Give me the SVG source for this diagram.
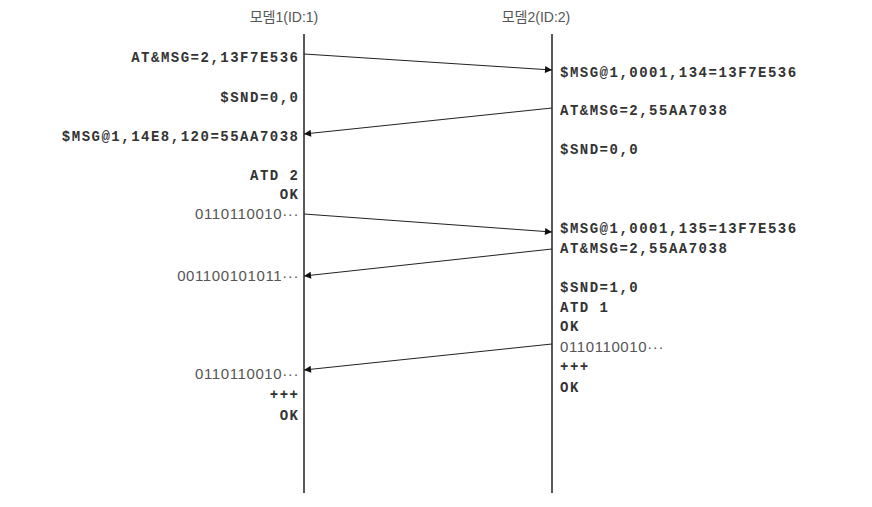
<svg xmlns="http://www.w3.org/2000/svg" width="872" height="507" viewBox="0 0 872 507">
<style>
.title{font-family:"Liberation Sans","Noto Sans CJK KR",sans-serif;font-size:14px;fill:#555}
.cmd{font-family:"Liberation Mono",monospace;font-weight:bold;font-size:14px;letter-spacing:1.5px;fill:#333}
.bin{font-family:"Liberation Sans",sans-serif;font-size:15px;letter-spacing:0.6px;fill:#555}
.l{text-anchor:end}
.life{stroke:#222;stroke-width:1.5;fill:none}
.msg{stroke:#222;stroke-width:1;fill:none;marker-end:url(#ah)}
</style>
<defs>
<marker id="ah" viewBox="0 0 10 10" refX="10" refY="5" markerWidth="8" markerHeight="7" markerUnits="userSpaceOnUse" orient="auto">
<path d="M0,0 L10,5 L0,10 z" fill="#111"/>
</marker>
</defs>
<rect width="872" height="507" fill="#fff"/>
<g id="modem1">
<text class="title" x="284" y="22" text-anchor="middle">모뎀1(ID:1)</text>
<line class="life" x1="304" y1="34" x2="304" y2="493"/>
<text class="cmd l" x="299.5" y="62">AT&amp;MSG=2,13F7E536</text>
<text class="cmd l" x="299.5" y="102">$SND=0,0</text>
<text class="cmd l" x="299.5" y="141">$MSG@1,14E8,120=55AA7038</text>
<text class="cmd l" x="299.5" y="180">ATD 2</text>
<text class="cmd l" x="299.5" y="199">OK</text>
<text class="bin l" x="299" y="219">0110110010···</text>
<text class="bin l" x="299" y="281">001100101011···</text>
<text class="bin l" x="299" y="379">0110110010···</text>
<text class="cmd l" x="299.5" y="399">+++</text>
<text class="cmd l" x="299.5" y="420">OK</text>
</g>
<g id="modem2">
<text class="title" x="536" y="22" text-anchor="middle">모뎀2(ID:2)</text>
<line class="life" x1="552" y1="34" x2="552" y2="493"/>
<text class="cmd" x="560" y="77">$MSG@1,0001,134=13F7E536</text>
<text class="cmd" x="560" y="115">AT&amp;MSG=2,55AA7038</text>
<text class="cmd" x="560" y="154">$SND=0,0</text>
<text class="cmd" x="560" y="233">$MSG@1,0001,135=13F7E536</text>
<text class="cmd" x="560" y="253">AT&amp;MSG=2,55AA7038</text>
<text class="cmd" x="560" y="292">$SND=1,0</text>
<text class="cmd" x="560" y="312">ATD 1</text>
<text class="cmd" x="560" y="331">OK</text>
<text class="bin" x="560" y="352">0110110010···</text>
<text class="cmd" x="560" y="371">+++</text>
<text class="cmd" x="560" y="392">OK</text>
</g>
<g id="connectors">
<line class="msg" x1="304" y1="54" x2="552" y2="70"/>
<line class="msg" x1="552" y1="108" x2="304" y2="134"/>
<line class="msg" x1="304" y1="214" x2="552" y2="232"/>
<line class="msg" x1="552" y1="249" x2="304" y2="276"/>
<line class="msg" x1="552" y1="344" x2="304" y2="370"/>
</g>
</svg>
